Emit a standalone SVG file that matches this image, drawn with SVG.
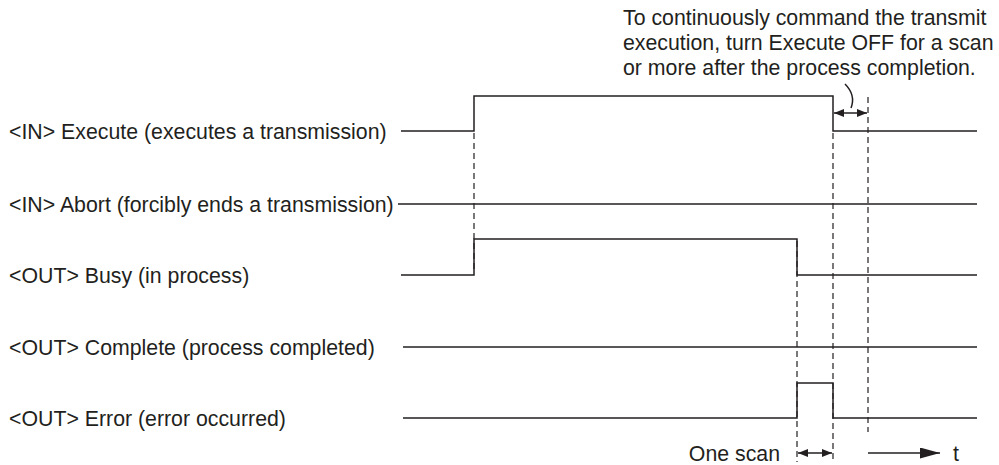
<svg xmlns="http://www.w3.org/2000/svg" width="999" height="465" viewBox="0 0 999 465">
<style>
text{font-family:"Liberation Sans",Arial,sans-serif;font-size:21.3px;fill:#231f20}
.sig{fill:none;stroke:#231f20;stroke-width:1.5}
.dash{fill:none;stroke:#231f20;stroke-width:1.2;stroke-dasharray:6,4}
.arr{fill:none;stroke:#231f20;stroke-width:1.5}
</style>
<defs>
<marker id="ah" viewBox="0 0 10 10" refX="10" refY="5" markerWidth="10" markerHeight="8" preserveAspectRatio="none" markerUnits="userSpaceOnUse" orient="auto-start-reverse"><path d="M0,0L10,5L0,10z" fill="#231f20"/></marker>
<marker id="ahBig" viewBox="0 0 10 10" refX="10" refY="5" markerWidth="20" markerHeight="11" preserveAspectRatio="none" markerUnits="userSpaceOnUse" orient="auto"><path d="M0,0L10,5L0,10z" fill="#231f20"/></marker>
</defs>
<g id="note">
<text x="623" y="25">To continuously command the transmit</text>
<text x="623" y="50">execution, turn Execute OFF for a scan</text>
<text x="623" y="75">or more after the process completion.</text>
</g>
<g id="execute">
<text x="9" y="139">&lt;IN&gt; Execute (executes a transmission)</text>
<polyline class="sig" points="401,131 474,131 474,96 833,96 833,131 977,131"/>
</g>
<g id="abort">
<text x="9" y="212">&lt;IN&gt; Abort (forcibly ends a transmission)</text>
<line class="sig" x1="398" y1="204" x2="977" y2="204"/>
</g>
<g id="busy">
<text x="9" y="283">&lt;OUT&gt; Busy (in process)</text>
<polyline class="sig" points="401,275 474,275 474,239 797,239 797,275 977,275"/>
</g>
<g id="complete">
<text x="9" y="355">&lt;OUT&gt; Complete (process completed)</text>
<line class="sig" x1="403" y1="347" x2="977" y2="347"/>
</g>
<g id="error">
<text x="9" y="426">&lt;OUT&gt; Error (error occurred)</text>
<polyline class="sig" points="403,418 797,418 797,383 833,383 833,418 977,418"/>
</g>
<g id="connectors">
<line class="dash" x1="474" y1="133" x2="474" y2="273"/>
<line class="dash" x1="797" y1="241" x2="797" y2="462"/>
<line class="dash" x1="833" y1="133" x2="833" y2="462"/>
<line class="dash" x1="868" y1="97" x2="868" y2="432"/>
<line class="arr" x1="834" y1="113" x2="867" y2="113" marker-start="url(#ah)" marker-end="url(#ah)"/>
<path class="arr" d="M845,84 Q856,95 851,108" stroke-width="1"/>
<line class="arr" x1="798" y1="453" x2="832" y2="453" marker-start="url(#ah)" marker-end="url(#ah)"/>
<line class="arr" x1="868" y1="453" x2="940" y2="453" marker-end="url(#ahBig)"/>
</g>
<g id="labels">
<text x="780" y="461" text-anchor="end">One scan</text>
<text x="953" y="461">t</text>
</g>
</svg>
